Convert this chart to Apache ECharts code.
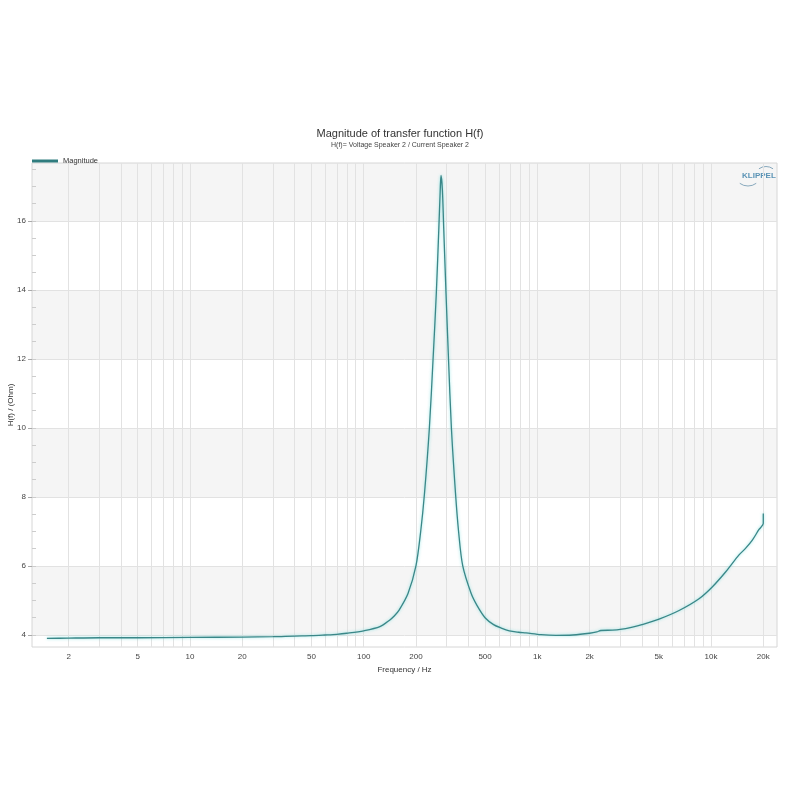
<!DOCTYPE html>
<html>
<head>
<meta charset="utf-8">
<title>Magnitude of transfer function H(f)</title>
<script src="https://cdn.jsdelivr.net/npm/echarts@6/dist/echarts.min.js"></script>
<style>
  html, body { margin: 0; padding: 0; background: #fff; }
  #chart { width: 800px; height: 800px; }
</style>
</head>
<body>
<div id="chart"></div>
<script>
var freqs = [1.5, 2, 3, 5, 10, 20, 30, 40, 50, 60, 70, 80, 100, 124, 141, 150, 160, 180, 200, 213, 224, 239, 251, 262, 271, 276, 279, 281, 284, 289, 298, 308, 320, 338, 352, 372, 416, 450, 500, 560, 620, 690, 780, 861, 1050, 1280, 1600, 2000, 2200, 2320, 2710, 3000, 3530, 4000, 5020, 6550, 8530, 10200, 12200, 14500, 15800, 17300, 18900, 20000, 20000]
var magnitude = [3.90, 3.91, 3.92, 3.92, 3.93, 3.94, 3.95, 3.97, 3.98, 4.00, 4.02, 4.05, 4.12, 4.24, 4.43, 4.55, 4.72, 5.20, 6.00, 7.00, 8.10, 10.0, 12.0, 13.9, 15.8, 16.9, 17.32, 17.32, 16.9, 15.8, 13.9, 12.0, 10.0, 8.10, 7.00, 6.00, 5.20, 4.85, 4.50, 4.30, 4.20, 4.12, 4.08, 4.06, 4.01, 3.99, 4.00, 4.05, 4.09, 4.13, 4.14, 4.16, 4.23, 4.30, 4.46, 4.71, 5.05, 5.40, 5.84, 6.32, 6.51, 6.75, 7.06, 7.23, 7.52]

var xLabels = [2, 5, 10, 20, 50, 100, 200, 500, 1000, 2000, 5000, 10000, 20000]
var xGrid = []
for (var d = 1; d <= 10000; d *= 10) {
  for (var m = 1; m <= 9; m++) xGrid.push(m * d)
}
var yTicks = [4, 6, 8, 10, 12, 14, 16]
var yMinor = []
for (var v = 4; v <= 17.5; v += 0.5) yMinor.push(v)

var xMin = 1.231
var xMax = 23990
var yMin = 3.652
var yMax = 17.68

var pts = freqs.map(function (f, i) { return [f, magnitude[i]] })

// edges of the alternating background bands: every tick plus the top of the plot
var bandEdges = yTicks.concat([yMax])

var fontFam = 'Arial, "Liberation Sans", sans-serif'
var logoColor = '#5a93b5'

var chart = echarts.init(document.getElementById('chart'))
chart.setOption({
  animation: false,
  title: {
    text: 'Magnitude of transfer function H(f)',
    subtext: 'H(f)= Voltage Speaker 2 / Current Speaker 2',
    left: 'center',
    top: 123,
    itemGap: 3,
    textStyle: { fontSize: 11, fontWeight: 'normal', color: '#333', fontFamily: fontFam },
    subtextStyle: { fontSize: 7, color: '#444', fontFamily: fontFam }
  },
  legend: {
    left: 27,
    top: 152,
    icon: 'rect',
    itemWidth: 26,
    itemHeight: 3,
    itemGap: 5,
    textStyle: { fontSize: 7.5, color: '#333', fontFamily: fontFam },
    data: ['Magnitude']
  },
  grid: {
    left: 32,
    right: 23,
    top: 163,
    bottom: 153,
    show: true,
    borderColor: '#d6d6d6',
    borderWidth: 1,
    containLabel: false,
    outerBoundsMode: 'none'
  },
  xAxis: {
    type: 'log',
    logBase: 10,
    min: xMin,
    max: xMax,
    name: 'Frequency / Hz',
    nameLocation: 'middle',
    nameGap: 17,
    nameTextStyle: { fontSize: 8, color: '#333', fontFamily: fontFam },
    axisLine: { show: false },
    axisTick: { show: false, customValues: xGrid },
    axisLabel: {
      customValues: xLabels,
      fontSize: 8,
      color: '#444',
      margin: 6,
      fontFamily: fontFam,
      formatter: function (val) {
        return val >= 1000 ? (val / 1000) + 'k' : String(val)
      }
    },
    splitLine: { show: true, lineStyle: { color: '#e2e2e2', width: 1 } }
  },
  yAxis: [{
    type: 'value',
    min: yMin,
    max: yMax,
    name: 'H(f) / (Ohm)',
    nameLocation: 'middle',
    nameGap: 17,
    nameMoveOverlap: false,
    nameRotate: 90,
    nameTextStyle: { fontSize: 8, color: '#333', fontFamily: fontFam },
    axisLine: { show: false },
    axisTick: { show: true, length: 4, customValues: yTicks, lineStyle: { color: '#aaa' } },
    axisLabel: { customValues: yTicks, fontSize: 8, color: '#444', margin: 6, fontFamily: fontFam },
    splitLine: { show: true, lineStyle: { color: '#e2e2e2', width: 1 } }
  }, {
    // minor ticks, pointing into the plot
    type: 'value',
    position: 'left',
    min: yMin,
    max: yMax,
    axisLine: { show: false },
    axisLabel: { show: false },
    splitLine: { show: false },
    axisTick: { show: true, inside: true, length: 4, customValues: yMinor, lineStyle: { color: '#ccc' } }
  }, {
    // alternating background bands, beneath everything else
    type: 'value',
    position: 'left',
    min: yMin,
    max: yMax,
    z: -1,
    axisLine: { show: false },
    axisLabel: { show: false },
    splitLine: { show: false },
    axisTick: { show: false, customValues: bandEdges },
    splitArea: { show: true, areaStyle: { color: ['#f5f5f5', 'rgba(255,255,255,0)'] } }
  }],
  series: [{
    name: 'Magnitude',
    type: 'line',
    data: pts,
    showSymbol: false,
    smooth: 0.3,
    color: '#2f7c7e',
    lineStyle: {
      color: '#3a8788',
      width: 1.3,
      shadowColor: 'rgba(90, 215, 215, 0.7)',
      shadowBlur: 3
    },
    z: 3
  }],
  graphic: [{
    type: 'text',
    x: 742,
    y: 172,
    style: { text: 'KLIPPEL', fontSize: 8, fontWeight: 'bold', fill: logoColor, fontFamily: fontFam }
  }, {
    type: 'arc',
    shape: { cx: 766, cy: 178.5, r: 12, startAngle: -Math.PI * 0.7, endAngle: -Math.PI * 0.3 },
    style: { stroke: '#7a9fb5', lineWidth: 0.9, fill: null }
  }, {
    type: 'arc',
    shape: { cx: 748, cy: 172, r: 14, startAngle: Math.PI * 0.3, endAngle: Math.PI * 0.7 },
    style: { stroke: '#7a9fb5', lineWidth: 0.9, fill: null }
  }]
})
</script>
</body>
</html>
